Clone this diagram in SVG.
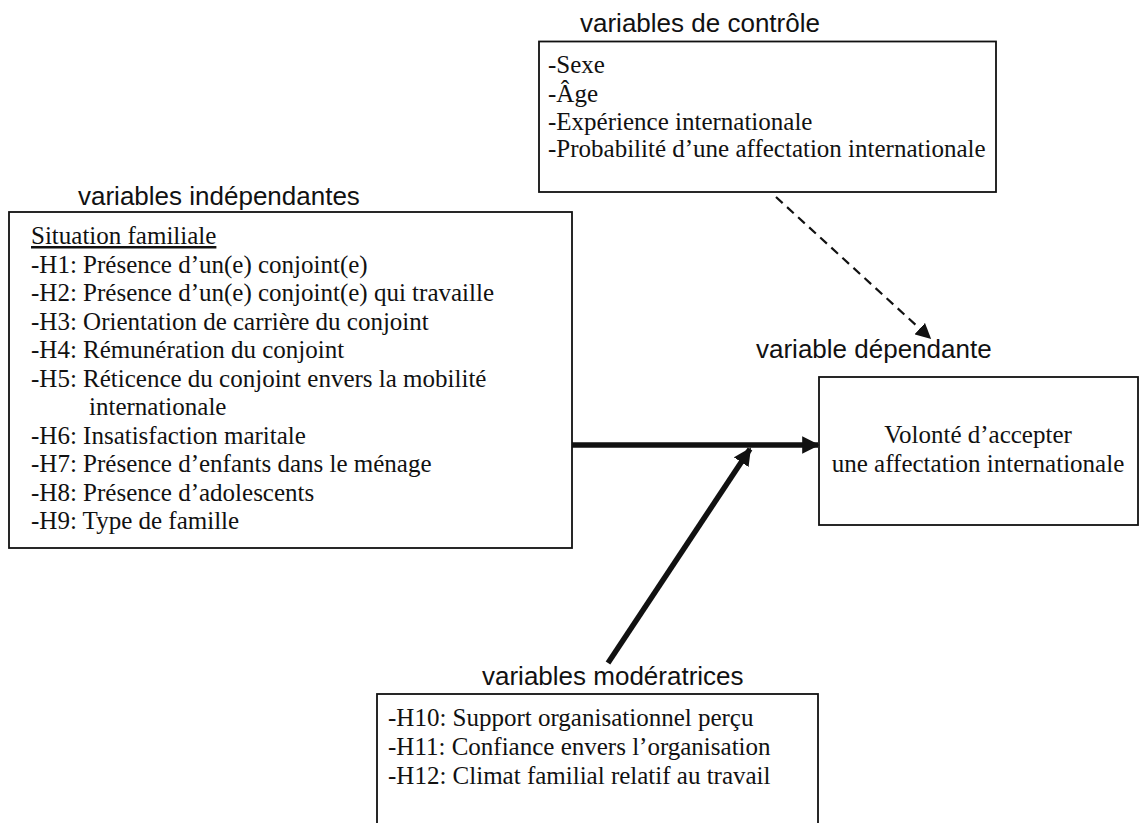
<svg xmlns="http://www.w3.org/2000/svg" width="1147" height="823" viewBox="0 0 1147 823">
<style>
.title{font-family:"Liberation Sans",Arial,sans-serif;font-size:26px;fill:#111}
.body{font-family:"Liberation Serif","Times New Roman",serif;font-size:25px;fill:#111}
.box{fill:#fff;stroke:#111;stroke-width:1.8}
.thick{stroke:#111;stroke-width:5.5;fill:none}
.dash{stroke:#111;stroke-width:2.2;fill:none;stroke-dasharray:9 6}
</style>
<defs>
<marker id="ah" viewBox="0 0 10 10" refX="9" refY="5" markerWidth="3.2" markerHeight="3.2" orient="auto" markerUnits="strokeWidth">
<path d="M0,0 L10,5 L0,10 z" fill="#111"/>
</marker>
<marker id="ahd" viewBox="0 0 10 10" refX="9" refY="5" markerWidth="7" markerHeight="7" orient="auto" markerUnits="strokeWidth">
<path d="M0,0 L10,5 L0,10 z" fill="#111"/>
</marker>
</defs>
<rect width="1147" height="823" fill="#fff"/>
<g id="controle">
<text class="title" x="580" y="32">variables de contrôle</text>
<rect class="box" x="539" y="41.5" width="457" height="150.5"/>
<text class="body" x="548" y="73">-Sexe</text>
<text class="body" x="548" y="102">-Âge</text>
<text class="body" x="548" y="130">-Expérience internationale</text>
<text class="body" x="548" y="157">-Probabilité d’une affectation internationale</text>
</g>
<g id="independantes">
<text class="title" x="78" y="205">variables indépendantes</text>
<rect class="box" x="9" y="212" width="563" height="336"/>
<text class="body" x="31" y="244" text-decoration="underline">Situation familiale</text>
<text class="body" x="31" y="272.5">-H1: Présence d’un(e) conjoint(e)</text>
<text class="body" x="31" y="301">-H2: Présence d’un(e) conjoint(e) qui travaille</text>
<text class="body" x="31" y="329.5">-H3: Orientation de carrière du conjoint</text>
<text class="body" x="31" y="358">-H4: Rémunération du conjoint</text>
<text class="body" x="31" y="386.5">-H5: Réticence du conjoint envers la mobilité</text>
<text class="body" x="89" y="415">internationale</text>
<text class="body" x="31" y="443.5">-H6: Insatisfaction maritale</text>
<text class="body" x="31" y="472">-H7: Présence d’enfants dans le ménage</text>
<text class="body" x="31" y="500.5">-H8: Présence d’adolescents</text>
<text class="body" x="31" y="529">-H9: Type de famille</text>
</g>
<g id="dependante">
<text class="title" x="756" y="358">variable dépendante</text>
<rect class="box" x="819" y="377" width="319" height="148"/>
<text class="body" x="978" y="443" text-anchor="middle">Volonté d’accepter</text>
<text class="body" x="978" y="471.5" text-anchor="middle">une affectation internationale</text>
</g>
<g id="moderatrices">
<text class="title" x="482" y="685">variables modératrices</text>
<rect class="box" x="377" y="694" width="441" height="140"/>
<text class="body" x="388" y="726">-H10: Support organisationnel perçu</text>
<text class="body" x="388" y="755">-H11: Confiance envers l’organisation</text>
<text class="body" x="388" y="784">-H12: Climat familial relatif au travail</text>
</g>
<g id="connecteurs">
<line class="dash" x1="776" y1="197" x2="930" y2="338" marker-end="url(#ahd)"/>
<line class="thick" x1="572" y1="445" x2="818" y2="445" marker-end="url(#ah)"/>
<line class="thick" x1="608" y1="663" x2="750" y2="449" marker-end="url(#ah)"/>
</g>
</svg>
